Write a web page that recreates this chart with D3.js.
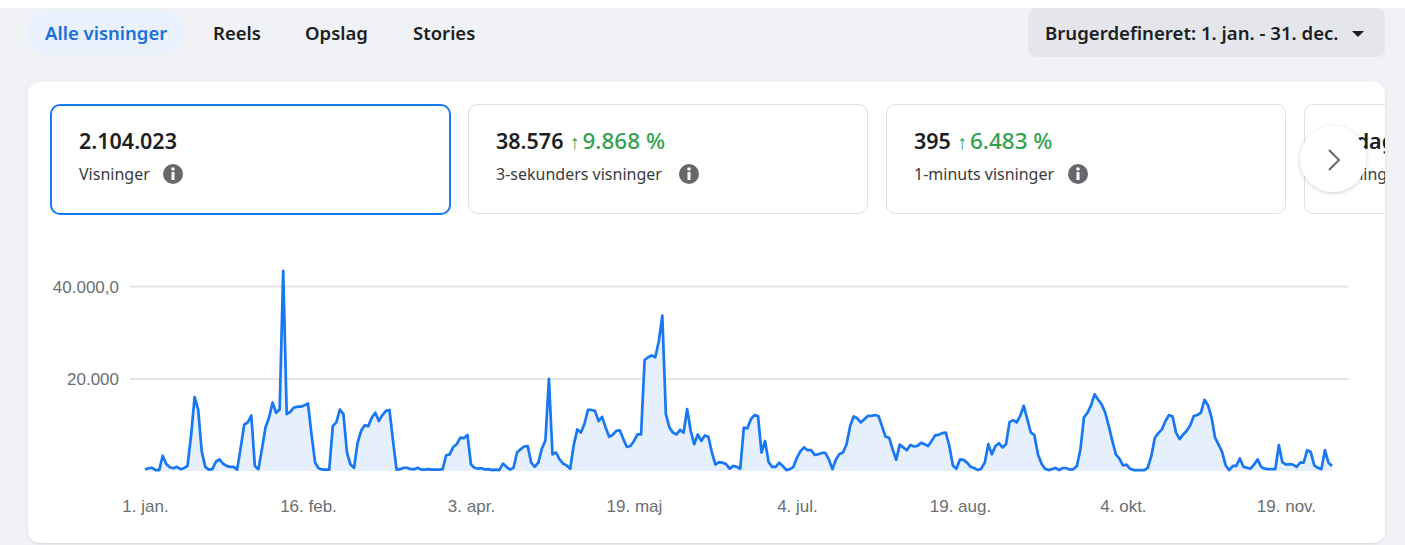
<!DOCTYPE html>
<html>
<head>
<meta charset="utf-8">
<script src="https://cdn.jsdelivr.net/npm/d3@7"></script>
<style>
  html, body { margin: 0; padding: 0; background: #f0f2f5; }
  svg { display: block; }
  .ui { font-family: "Noto Sans", sans-serif; }
  .tick text { font-family: "Liberation Sans", Arial, sans-serif; }
</style>
</head>
<body>
<div id="chart"></div>
<script>
// tabs, period picker and metric cards
const tabs = ["Alle visninger", "Reels", "Opslag", "Stories"];
const periodLabel = "Brugerdefineret: 1. jan. - 31. dec.";
const metricValues = ["2.104.023", "38.576", "395", "Pr. dag"];
const metricChanges = [null, "9.868 %", "6.483 %", null];
const metricLabels = ["Visninger", "3-sekunders visninger", "1-minuts visninger", "Visninger"];

// daily views from 1. jan.
const startDate = new Date(2023, 0, 1);
const views = [
  300, 600, 700, 200, 200, 3300, 1500, 800, 600, 900,
  400, 600, 1100, 7600, 16000, 13300, 4300, 900, 300, 400,
  2000, 2500, 1600, 1100, 900, 900, 300, 5000, 10000, 10500,
  12000, 1100, 400, 4700, 9400, 11500, 14800, 12600, 13300, 43300,
  12300, 12800, 13700, 13900, 13900, 14200, 14600, 7900, 1800, 600,
  300, 300, 300, 9700, 10500, 13300, 12300, 4000, 1400, 700,
  6100, 8700, 9900, 9700, 11500, 12600, 10800, 12100, 13000, 13200,
  6500, 300, 400, 700, 700, 400, 400, 700, 300, 300,
  400, 300, 300, 300, 400, 3400, 3600, 5200, 5800, 7200,
  7100, 7800, 1400, 700, 500, 600, 300, 400, 200, 300,
  200, 1600, 900, 300, 700, 4000, 4700, 5300, 5400, 1800,
  900, 1800, 4800, 6600, 19900, 3600, 4000, 2500, 1600, 1200,
  500, 5600, 9000, 8300, 10100, 13200, 13200, 13000, 10800, 11700,
  9400, 7400, 7800, 8700, 8800, 6900, 5200, 5400, 6500, 7900,
  7900, 24000, 24600, 25000, 24600, 28000, 33600, 12300, 9400, 8300,
  7900, 8900, 8300, 13400, 8700, 5800, 7900, 6500, 7700, 7400,
  4000, 1400, 1900, 1800, 1500, 500, 1100, 900, 500, 9400,
  9200, 11200, 12100, 11900, 4000, 6500, 1900, 900, 900, 1800,
  1100, 200, 400, 900, 2900, 4300, 5100, 4500, 4500, 3500,
  3600, 3900, 3900, 2500, 400, 2500, 3700, 4000, 5800, 9700,
  11800, 11400, 10500, 11200, 11900, 11900, 12100, 11900, 9700, 7400,
  7200, 4700, 2400, 5700, 5100, 4500, 5600, 5300, 5400, 6100,
  5800, 5400, 6500, 7700, 7800, 8200, 8300, 5400, 1200, 500,
  2500, 2400, 1800, 900, 650, 200, 500, 1800, 5800, 3600,
  5400, 6000, 5100, 5800, 10600, 11000, 10500, 11900, 14100, 11200,
  8300, 7800, 3600, 1600, 500, 200, 400, 700, 200, 650,
  650, 300, 400, 1100, 4700, 11600, 12600, 14200, 16600, 15400,
  14400, 12600, 9700, 6500, 3600, 2700, 1200, 1400, 500, 200,
  200, 200, 200, 700, 3200, 7200, 8200, 9000, 10800, 12100,
  11800, 8300, 6900, 7900, 8700, 9900, 11900, 12100, 12600, 15400,
  14200, 11600, 7200, 5700, 4100, 1200, 200, 1100, 1100, 2700,
  900, 700, 500, 1400, 2500, 900, 500, 400, 400, 400,
  5600, 1900, 1400, 1500, 1400, 900, 1800, 1800, 4500, 4100,
  1200, 700, 400, 4500, 1800, 1100
];

// axis ticks
const xTickDates = [new Date(2023, 0, 1), new Date(2023, 1, 16), new Date(2023, 3, 3), new Date(2023, 4, 19),
                    new Date(2023, 6, 4), new Date(2023, 7, 19), new Date(2023, 9, 4), new Date(2023, 10, 19)];
const xTickLabels = ["1. jan.", "16. feb.", "3. apr.", "19. maj", "4. jul.", "19. aug.", "4. okt.", "19. nov."];
const yTickValues = [20000, 40000];
const yTickLabels = ["20.000", "40.000,0"];

const width = 1405, height = 545;
const blue = "#1877f2", green = "#31a24c", grey = "#65676b", dark = "#1c1e21";

const svg = d3.select("#chart").append("svg")
    .attr("width", width)
    .attr("height", height)
    .attr("viewBox", [0, 0, width, height]);

const defs = svg.append("defs");
const shadow = defs.append("filter").attr("id", "shadow")
    .attr("x", "-10%").attr("y", "-10%").attr("width", "120%").attr("height", "120%");
shadow.append("feDropShadow").attr("dx", 0).attr("dy", 1).attr("stdDeviation", 1.2)
    .attr("flood-color", "#000").attr("flood-opacity", 0.12);
const btnShadow = defs.append("filter").attr("id", "btnShadow")
    .attr("x", "-30%").attr("y", "-30%").attr("width", "160%").attr("height", "160%");
btnShadow.append("feDropShadow").attr("dx", 0).attr("dy", 1).attr("stdDeviation", 2)
    .attr("flood-color", "#000").attr("flood-opacity", 0.2);

// page background
svg.append("rect").attr("width", width).attr("height", height).attr("fill", "#f0f2f5");
svg.append("rect").attr("width", width).attr("height", 8).attr("fill", "#fff");

// tabs
const tabX = [45, 213, 305, 413];
svg.append("rect").attr("x", 27).attr("y", 10).attr("width", 157).attr("height", 45)
    .attr("rx", 22).attr("fill", "#e8f1fc");
svg.append("g").attr("class", "ui")
  .selectAll("text")
  .data(tabs)
  .join("text")
    .attr("x", (d, i) => tabX[i])
    .attr("y", 40)
    .attr("font-size", 18.5)
    .attr("font-weight", 600)
    .attr("fill", (d, i) => i === 0 ? "#1b6fd8" : dark)
    .text(d => d);

// period dropdown
svg.append("rect").attr("x", 1028).attr("y", 8).attr("width", 357).attr("height", 49)
    .attr("rx", 8).attr("fill", "#e4e6eb");
svg.append("text").attr("class", "ui")
    .attr("x", 1045).attr("y", 40)
    .attr("font-size", 18.6).attr("font-weight", 600).attr("fill", dark)
    .text(periodLabel);
svg.append("path").attr("d", "M1352,31 L1364,31 L1358,37 Z").attr("fill", dark);

// main card
svg.append("rect").attr("x", 28).attr("y", 82).attr("width", 1357).attr("height", 461)
    .attr("rx", 12).attr("fill", "#fff").attr("filter", "url(#shadow)");
defs.append("clipPath").attr("id", "cardClip")
  .append("rect").attr("x", 28).attr("y", 82).attr("width", 1357).attr("height", 461).attr("rx", 12);

// metric cards
const cardX = [50, 468, 886, 1304];
const cards = svg.append("g").attr("class", "ui").attr("clip-path", "url(#cardClip)")
  .selectAll("g")
  .data(d3.range(metricValues.length))
  .join("g")
    .attr("transform", i => `translate(${cardX[i]},104)`);

cards.append("rect")
    .attr("x", i => i === 0 ? 1 : 0.5)
    .attr("y", i => i === 0 ? 1 : 0.5)
    .attr("width", 399)
    .attr("height", 109)
    .attr("rx", 9)
    .attr("fill", "#fff")
    .attr("stroke", i => i === 0 ? blue : "#dddfe3")
    .attr("stroke-width", i => i === 0 ? 2 : 1);

const valueText = cards.append("text")
    .attr("x", i => i === 0 ? 29 : (i === 3 ? 21 : 28))
    .attr("y", 45)
    .attr("font-size", 21.5)
    .attr("fill", dark);
valueText.append("tspan").attr("font-weight", 600).text(i => metricValues[i]);
const withChange = valueText.filter(i => metricChanges[i]);
withChange.append("tspan").attr("fill", green).attr("font-size", 20).attr("dx", 6).text("\u2191");
withChange.append("tspan").attr("fill", green).attr("font-size", 22.5).attr("font-weight", 500).attr("dx", 3)
    .text(i => metricChanges[i]);

cards.append("text")
    .attr("x", i => i === 0 ? 29 : 28)
    .attr("y", 76)
    .attr("font-size", 16)
    .attr("fill", "#3a3b3c")
    .text(i => metricLabels[i]);

// info icons
const iconX = [123, 221, 192, null];
const icons = cards.filter(i => iconX[i] !== null)
  .append("g")
    .attr("transform", i => `translate(${iconX[i]},70)`);
icons.append("circle").attr("r", 10).attr("fill", grey);
icons.append("rect").attr("x", -1.5).attr("y", -2).attr("width", 3).attr("height", 8).attr("fill", "#fff");
icons.append("circle").attr("cy", -5).attr("r", 1.8).attr("fill", "#fff");

// scroll button
svg.append("circle").attr("cx", 1333).attr("cy", 159).attr("r", 33)
    .attr("fill", "#fff").attr("filter", "url(#btnShadow)");
svg.append("path").attr("d", "M1329,150 L1339,160 L1329,170")
    .attr("fill", "none").attr("stroke", grey).attr("stroke-width", 2);

// chart scales
const data = views.map((v, i) => ({ date: d3.timeDay.offset(startDate, i), value: v }));
const x = d3.scaleTime()
    .domain(d3.extent(data, d => d.date))
    .range([145, 1332]);
const y = d3.scaleLinear()
    .domain([0, 40000])
    .range([471, 286]);

// grid + y labels
const yAxis = svg.append("g")
    .attr("transform", "translate(130,0)")
    .call(d3.axisLeft(y)
        .tickValues(yTickValues)
        .tickSize(-1218)
        .tickPadding(11)
        .tickFormat((d, i) => yTickLabels[i]));
yAxis.select(".domain").remove();
yAxis.selectAll(".tick line").attr("stroke", "#e2e3e5").attr("stroke-width", 2);
yAxis.selectAll(".tick text").attr("font-size", 17).attr("fill", "#6b6e73").attr("dy", "0.36em");

// x labels
const xAxis = svg.append("g")
    .attr("transform", "translate(0,471)")
    .call(d3.axisBottom(x)
        .tickValues(xTickDates)
        .tickSize(0)
        .tickPadding(29)
        .tickFormat((d, i) => xTickLabels[i]));
xAxis.select(".domain").remove();
xAxis.selectAll(".tick text").attr("font-size", 17).attr("fill", "#6b6e73");

// area + line
svg.append("path")
    .datum(data)
    .attr("fill", "#e6effc")
    .attr("d", d3.area()
        .x(d => x(d.date))
        .y0(y(0))
        .y1(d => y(d.value)));

svg.append("path")
    .datum(data)
    .attr("fill", "none")
    .attr("stroke", blue)
    .attr("stroke-width", 2.7)
    .attr("stroke-linejoin", "round")
    .attr("d", d3.line()
        .x(d => x(d.date))
        .y(d => y(d.value)));
</script>
</body>
</html>
